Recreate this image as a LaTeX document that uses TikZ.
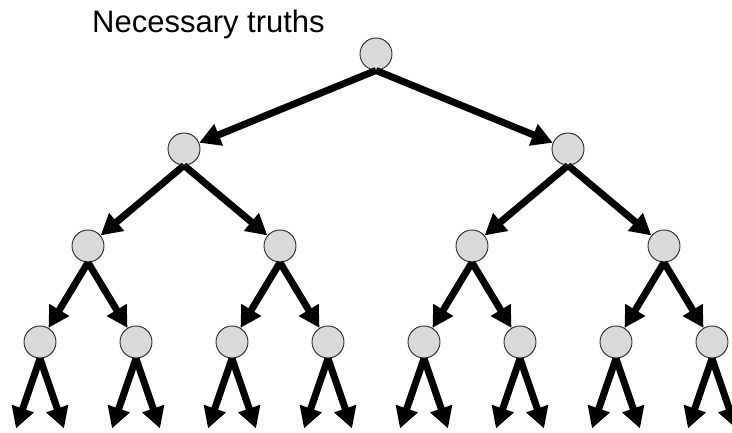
\documentclass[tikz,border=0pt]{standalone}
\usepackage{fontspec}
\setmainfont{Liberation Sans}
\usetikzlibrary{arrows.meta}

\tikzset{
    truth/.style={circle, draw=black!85, line width=0.9pt, fill=black!15, minimum size=32pt, inner sep=0pt},
    edge/.style={line width=7pt, -{Triangle[length=21pt, width=22pt]}}
}

\begin{document}
\begin{tikzpicture}[x=1pt, y=-1pt]
        \useasboundingbox (0,0) rectangle (732,433);
        % title
        \node[anchor=base west, inner sep=0pt, font=\fontsize{31}{37}\selectfont] (title) at (92,33) {Necessary truths};
        % tree
        \node[truth] (r) at (376,54) {};
        \node[truth] (a) at (184,149) {};
        \node[truth] (b) at (568,149) {};
        \node[truth] (aa) at (88,246) {};
        \node[truth] (ab) at (280,246) {};
        \node[truth] (ba) at (472,246) {};
        \node[truth] (bb) at (664,246) {};
        \node[truth] (aaa) at (40,342) {};
        \node[truth] (aab) at (136,342) {};
        \node[truth] (aba) at (232,342) {};
        \node[truth] (abb) at (328,342) {};
        \node[truth] (baa) at (424,342) {};
        \node[truth] (bab) at (520,342) {};
        \node[truth] (bba) at (616,342) {};
        \node[truth] (bbb) at (712,342) {};
        \draw[edge] (r.south) -- (a);
        \draw[edge] (r.south) -- (b);
        \draw[edge] (a.south) -- (aa);
        \draw[edge] (a.south) -- (ab);
        \draw[edge] (b.south) -- (ba);
        \draw[edge] (b.south) -- (bb);
        \draw[edge] (aa.south) -- (aaa);
        \draw[edge] (aa.south) -- (aab);
        \draw[edge] (ab.south) -- (aba);
        \draw[edge] (ab.south) -- (abb);
        \draw[edge] (ba.south) -- (baa);
        \draw[edge] (ba.south) -- (bab);
        \draw[edge] (bb.south) -- (bba);
        \draw[edge] (bb.south) -- (bbb);
        % open ends
        \foreach \n in {aaa,aab,aba,abb,baa,bab,bba,bbb} {
            \coordinate (\n l) at ([xshift=-24pt, yshift=-70pt]\n.south);
            \coordinate (\n r) at ([xshift=24pt, yshift=-70pt]\n.south);
            \draw[edge] (\n.south) -- (\n l);
            \draw[edge] (\n.south) -- (\n r);
        }
    \end{tikzpicture}
\end{document}
